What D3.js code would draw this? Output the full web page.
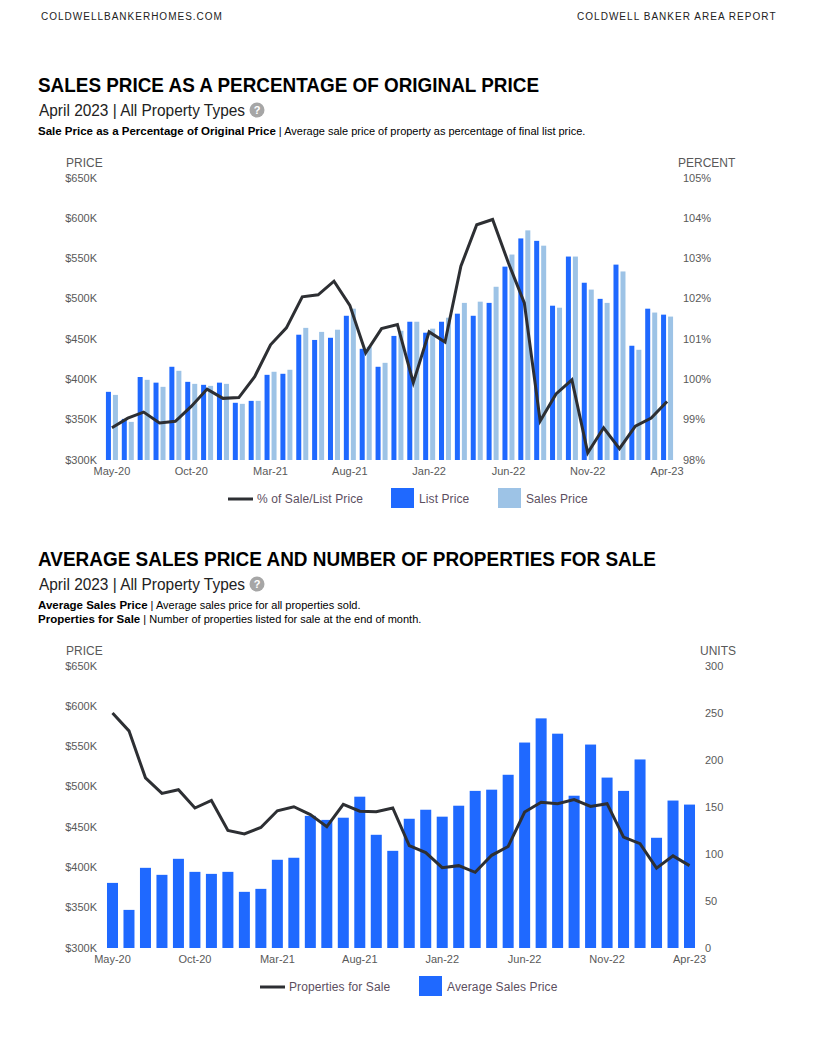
<!DOCTYPE html>
<html>
<head>
<meta charset="utf-8">
<script src="https://cdn.jsdelivr.net/npm/d3@7"></script>
<style>
  html, body { margin: 0; padding: 0; background: #fff; }
  svg { display: block; font-family: 'Liberation Sans', Arial, sans-serif; }
  .tick text { font-size: 11px; fill: #595959; }
  .axis-title { font-size: 12px; fill: #595959; }
  .legend-label { font-size: 12px; fill: #5c4f5f; letter-spacing: 0.1px; }
</style>
</head>
<body>
<div id="svg-container"></div>
<script>
const months = [
  'May-20', 'Jun-20', 'Jul-20', 'Aug-20', 'Sep-20', 'Oct-20', 'Nov-20', 'Dec-20', 'Jan-21',
  'Feb-21', 'Mar-21', 'Apr-21', 'May-21', 'Jun-21', 'Jul-21', 'Aug-21', 'Sep-21', 'Oct-21',
  'Nov-21', 'Dec-21', 'Jan-22', 'Feb-22', 'Mar-22', 'Apr-22', 'May-22', 'Jun-22', 'Jul-22',
  'Aug-22', 'Sep-22', 'Oct-22', 'Nov-22', 'Dec-22', 'Jan-23', 'Feb-23', 'Mar-23', 'Apr-23',
]
const monthTicks = ['May-20', 'Oct-20', 'Mar-21', 'Aug-21', 'Jan-22', 'Jun-22', 'Nov-22', 'Apr-23']

// all prices in $K
const listPrice = [
  384.6, 351, 403, 396, 415.7, 397, 393.3, 396, 371, 373.4, 405.7, 407,
  455.5, 449, 451.7, 479, 438, 415.7, 454, 471.6, 458, 471.6, 481.6, 479,
  495, 540, 575, 572, 491.5, 552.5, 520, 500, 542.5, 441.8, 487.8, 480.4,
]
const salesPrice = [
  380.8, 347.3, 399.5, 390.8, 410.7, 394.5, 392, 394.5, 369.7, 373.4, 409.5, 412,
  464, 459, 461.7, 487.8, 440.5, 420.6, 460.4, 471.6, 463, 476.6, 495, 496.5,
  515, 555, 585, 566, 489, 552.5, 511.5, 495, 534, 436.8, 483, 478,
]
const saleListPercent = [
  98.8, 99.04, 99.19, 98.92, 98.96, 99.33, 99.76, 99.53, 99.55, 100.07, 100.86, 101.28,
  102.05, 102.1, 102.44, 101.84, 100.66, 101.26, 101.36, 99.92, 101.18, 100.93, 102.81, 103.84,
  103.97, 102.89, 101.9, 98.97, 99.64, 99.99, 98.18, 98.8, 98.28, 98.84, 99.04, 99.45,
]
const propertiesForSale = [
  250, 231, 181, 164.5, 168.4, 148.9, 157, 125, 121.4, 128.2, 146, 150.3,
  142, 129, 152.8, 145.6, 145, 149, 109, 101.5, 85.5, 87.6, 80.5, 98.6,
  108, 144.6, 155, 153.5, 157.8, 150.6, 153.5, 118, 111, 85, 98, 87.6,
]

const priceTicks = [300, 350, 400, 450, 500, 550, 600, 650]
const percentTicks = [98, 99, 100, 101, 102, 103, 104, 105]
const unitTicks = [0, 50, 100, 150, 200, 250, 300]

const listColor = '#1f69ff'
const salesColor = '#9dc3e6'
const lineColor = '#2d2f33'

const svg = d3
  .select('#svg-container')
  .append('svg')
  .attr('width', 814)
  .attr('height', 1054)

// page header
svg
  .append('text')
  .text('COLDWELLBANKERHOMES.COM')
  .attr('x', 41)
  .attr('y', 20)
  .style('font-size', '10px')
  .style('letter-spacing', '1px')
  .attr('fill', '#222')
svg
  .append('text')
  .text('COLDWELL BANKER AREA REPORT')
  .attr('x', 577)
  .attr('y', 20)
  .style('font-size', '10px')
  .style('letter-spacing', '1.03px')
  .attr('fill', '#222')

const drawHeading = (top, title, titleWidth, notes) => {
  svg
    .append('text')
    .text(title)
    .attr('x', 38)
    .attr('y', top)
    .attr('textLength', titleWidth)
    .attr('lengthAdjust', 'spacingAndGlyphs')
    .style('font-size', '20px')
    .style('font-weight', 700)
    .attr('fill', '#000')

  svg
    .append('text')
    .text('April 2023 | All Property Types')
    .attr('x', 39)
    .attr('y', top + 24)
    .attr('textLength', 206)
    .attr('lengthAdjust', 'spacingAndGlyphs')
    .style('font-size', '16px')
    .attr('fill', '#222')

  svg
    .append('circle')
    .attr('cx', 257)
    .attr('cy', top + 18)
    .attr('r', 7.5)
    .attr('fill', '#a6a6a6')
  svg
    .append('text')
    .text('?')
    .attr('x', 257)
    .attr('y', top + 22)
    .attr('text-anchor', 'middle')
    .style('font-size', '11px')
    .style('font-weight', 700)
    .attr('fill', '#fff')

  notes.forEach(([bold, rest], i) => {
    const line = svg
      .append('text')
      .attr('x', 38)
      .attr('y', top + 43 + i * 14)
      .style('font-size', '11px')
      .attr('fill', '#000')
    line.append('tspan').text(bold).style('font-weight', 700).style('font-size', '11.5px')
    line.append('tspan').text(` | ${rest}`)
  })
}

const drawChart = ({
  rangeX,
  top,
  bottom,
  barSeries,
  barWidth,
  lineValues,
  rightDomain,
  rightTicks,
  rightFormat,
  rightX,
  rightTitle,
  rightTitleX,
}) => {
  const xScale = d3.scaleBand().domain(months).range(rangeX)
  const yPrice = d3.scaleLinear().domain([300, 650]).range([bottom, top])
  const yRight = d3.scaleLinear().domain(rightDomain).range([bottom, top])

  const coreChart = svg.append('g')

  // left axis, labels sit a bit above the scale position
  coreChart
    .append('g')
    .attr('transform', `translate(97, -0.5)`)
    .call(
      d3
        .axisLeft(yPrice)
        .tickValues(priceTicks)
        .tickSize(0)
        .tickPadding(0)
        .tickFormat(d => `$${d}K`),
    )
    .call(g => g.select('.domain').remove())

  // right axis
  coreChart
    .append('g')
    .attr('transform', `translate(${rightX}, -0.5)`)
    .call(
      d3
        .axisRight(yRight)
        .tickValues(rightTicks)
        .tickSize(0)
        .tickPadding(0)
        .tickFormat(rightFormat),
    )
    .call(g => g.select('.domain').remove())

  // x axis
  coreChart
    .append('g')
    .attr('transform', `translate(0, ${bottom + 4})`)
    .call(d3.axisBottom(xScale).tickValues(monthTicks).tickSize(0).tickPadding(3))
    .call(g => g.select('.domain').remove())

  coreChart
    .append('text')
    .attr('class', 'axis-title')
    .text('PRICE')
    .attr('x', 66)
    .attr('y', top - 11)
  coreChart
    .append('text')
    .attr('class', 'axis-title')
    .text(rightTitle)
    .attr('x', rightTitleX)
    .attr('y', top - 11)

  // bars
  const groupWidth = barSeries.length * barWidth + (barSeries.length - 1) * 2
  barSeries.forEach((series, s) => {
    coreChart
      .append('g')
      .attr('fill', series.color)
      .selectAll('rect')
      .data(series.values)
      .join('rect')
      .attr(
        'x',
        (d, i) =>
          xScale(months[i]) +
          xScale.bandwidth() / 2 -
          groupWidth / 2 +
          s * (barWidth + 2),
      )
      .attr('width', barWidth)
      .attr('y', d => yPrice(d))
      .attr('height', d => bottom - yPrice(d))
  })

  // line
  const line = d3
    .line()
    .x((d, i) => xScale(months[i]) + xScale.bandwidth() / 2)
    .y(d => yRight(d))
  coreChart
    .append('path')
    .attr('d', line(lineValues))
    .attr('fill', 'none')
    .attr('stroke', lineColor)
    .attr('stroke-width', 3)
}

const drawLegend = (lineX, y, lineLabel, swatches) => {
  svg
    .append('line')
    .attr('x1', lineX)
    .attr('x2', lineX + 25)
    .attr('y1', y)
    .attr('y2', y)
    .attr('stroke', lineColor)
    .attr('stroke-width', 3)
  svg
    .append('text')
    .attr('class', 'legend-label')
    .text(lineLabel)
    .attr('x', lineX + 29)
    .attr('y', y + 4)
  swatches.forEach(({ x, color, label }) => {
    svg
      .append('rect')
      .attr('x', x)
      .attr('y', y - 11)
      .attr('width', 23)
      .attr('height', 20)
      .attr('fill', color)
    svg
      .append('text')
      .attr('class', 'legend-label')
      .text(label)
      .attr('x', x + 28)
      .attr('y', y + 4)
  })
}

drawHeading(92, 'SALES PRICE AS A PERCENTAGE OF ORIGINAL PRICE', 501, [
  [
    'Sale Price as a Percentage of Original Price',
    'Average sale price of property as percentage of final list price.',
  ],
])
drawChart({
  rangeX: [104, 675],
  top: 178,
  bottom: 460,
  barSeries: [
    { values: listPrice, color: listColor },
    { values: salesPrice, color: salesColor },
  ],
  barWidth: 5,
  lineValues: saleListPercent,
  rightDomain: [98, 105],
  rightTicks: percentTicks,
  rightFormat: d => `${d}%`,
  rightX: 683,
  rightTitle: 'PERCENT',
  rightTitleX: 678,
})
drawLegend(228, 499, '% of Sale/List Price', [
  { x: 391, color: listColor, label: 'List Price' },
  { x: 498, color: salesColor, label: 'Sales Price' },
])

drawHeading(566, 'AVERAGE SALES PRICE AND NUMBER OF PROPERTIES FOR SALE', 618, [
  ['Average Sales Price', 'Average sales price for all properties sold.'],
  ['Properties for Sale', 'Number of properties listed for sale at the end of month.'],
])
drawChart({
  rangeX: [104.25, 697.75],
  top: 666,
  bottom: 948,
  barSeries: [{ values: salesPrice, color: listColor }],
  barWidth: 11,
  lineValues: propertiesForSale,
  rightDomain: [0, 300],
  rightTicks: unitTicks,
  rightFormat: d => d,
  rightX: 705,
  rightTitle: 'UNITS',
  rightTitleX: 700,
})
drawLegend(260, 987, 'Properties for Sale', [
  { x: 419, color: listColor, label: 'Average Sales Price' },
])
</script>
</body>
</html>
